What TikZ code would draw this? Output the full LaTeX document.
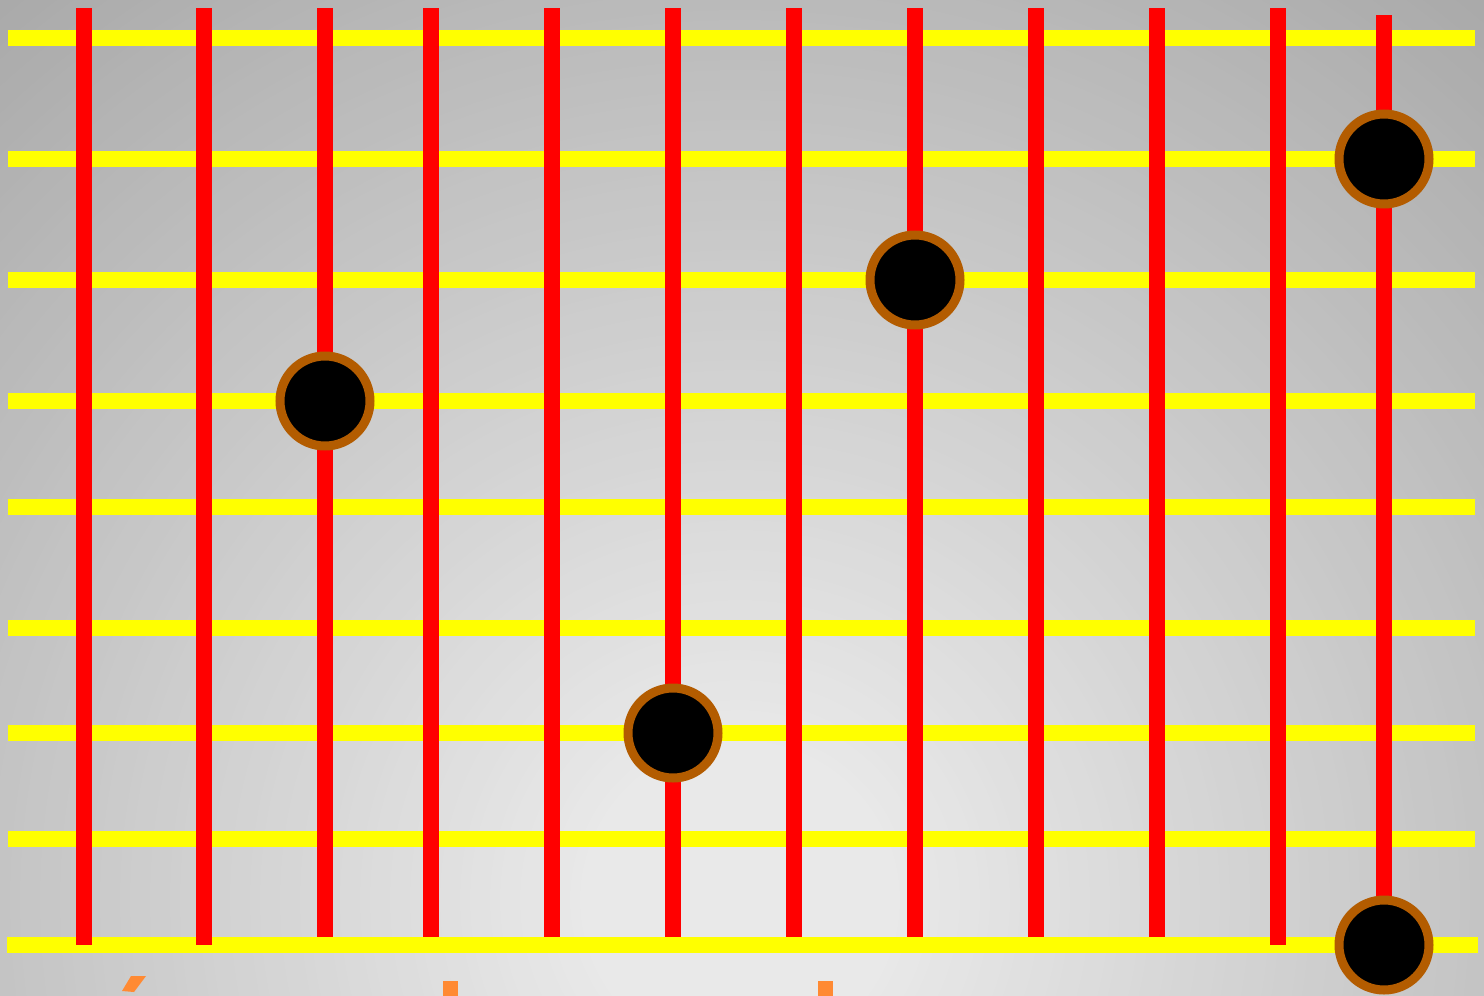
\documentclass[tikz,border=0pt]{standalone}
\definecolor{gridred}{RGB}{255,0,0}
\definecolor{gridyellow}{RGB}{255,255,0}
\definecolor{ringbrown}{RGB}{179,92,0}
\definecolor{markorange}{RGB}{255,138,51}
\begin{document}
\begin{tikzpicture}[x=1pt,y=-1pt,
  hline/.style={draw=gridyellow,line width=16pt},
  vline/.style={draw=gridred,line width=16pt},
  dot/.style={circle,fill=black,draw=ringbrown,line width=9pt,minimum size=90pt,inner sep=0pt},
  fragmark/.style={fill=markorange,draw=none}]
\useasboundingbox (0,0) rectangle (1484,996);
\begin{scope}
  \clip (0,0) rectangle (1484,996);
  \coordinate (bgc) at (740,900);
  \foreach \r in {1300,1290,...,150} {
    \pgfmathsetmacro\v{max(0.55,(232-(\r-170)*0.0625)/255)}
    \definecolor{bgtmp}{gray}{\v}
    \fill[bgtmp] (bgc) circle[radius=\r pt];
  }
\end{scope}
% yellow horizontal lines
\foreach \y in {38,159,280,401,507,628,733,839}
  \draw[hline] (8,\y) -- (1475,\y);
\draw[hline] (7,945) -- (1478,945);
% red vertical lines
\foreach \x in {84,204,1278}
  \draw[vline] (\x,8) -- (\x,945);
\foreach \x in {325,431,552,673,794,915,1036,1157}
  \draw[vline] (\x,8) -- (\x,937);
\draw[vline] (1384,15) -- (1384,945);
% circles
\node[dot] (c1) at (325,401) {};
\node[dot] (c2) at (915,280) {};
\node[dot] (c3) at (673,733) {};
\node[dot] (c4) at (1384,159) {};
\node[dot] (c5) at (1384,945) {};
% orange fragments at the bottom edge
\fill[fragmark] (131,976) -- (146,976) -- (134,992) -- (122,991) -- cycle;
\fill[fragmark] (443,981) rectangle (458,1000);
\fill[fragmark] (818,981) rectangle (833,1000);
\end{tikzpicture}
\end{document}
